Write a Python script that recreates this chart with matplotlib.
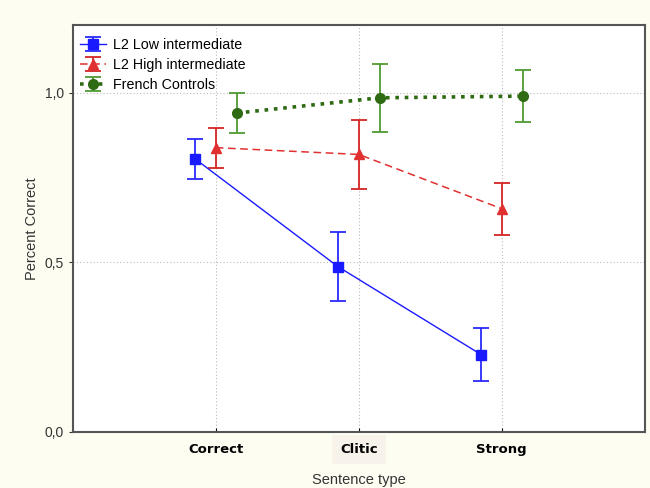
import matplotlib
matplotlib.use("Agg")
import matplotlib.pyplot as plt
from matplotlib.ticker import FuncFormatter

categories = ["Correct", "Clitic", "Strong"]
groups = ["L2 Low intermediate", "L2 High intermediate", "French Controls"]

low_mean = [0.805, 0.487, 0.228]
low_err = [0.058, 0.101, 0.077]
high_mean = [0.838, 0.818, 0.658]
high_err = [0.059, 0.102, 0.077]
ctrl_mean = [0.940, 0.985, 0.990]
ctrl_err = [0.058, 0.101, 0.077]

plt.rcParams['font.family'] = ['Liberation Sans', 'DejaVu Sans']

fig = plt.figure(figsize=(6.5, 4.88), dpi=100, facecolor="#fdfdf2")
ax = fig.add_axes([0.112, 0.115, 0.88, 0.834])
ax.set_facecolor("white")

x = list(range(1, len(categories) + 1))
shift = 0.145

# blue: low intermediate
ax.errorbar([v - shift for v in x], low_mean, yerr=low_err, color="#1a1aff",
            ecolor="#2a2aff", marker="s", markersize=7, linestyle="-", linewidth=1,
            elinewidth=1.3, capsize=6, capthick=1.3, label=groups[0], zorder=3)
# red: high intermediate
ax.errorbar(x, high_mean, yerr=high_err, color="#e03030", ecolor="#d42424",
            marker="^", markersize=7, linestyle=(0, (5, 3)), linewidth=1.1,
            elinewidth=1.3, capsize=6, capthick=1.3, label=groups[1], zorder=3)
# green: controls
ax.errorbar([v + shift for v in x], ctrl_mean, yerr=ctrl_err, color="#2f6b12",
            ecolor="#4f9a32", marker="o", markersize=7, linestyle=(0, (1, 1.6)),
            linewidth=2.6, elinewidth=1.3, capsize=6, capthick=1.3,
            label=groups[2], zorder=3)

ax.set_xlim(0, 4)
ax.set_ylim(0, 1.2)
ax.set_xticks(x)
ax.set_xticklabels(categories, fontsize=9.5, fontweight="bold", family="DejaVu Sans")
ax.get_xticklabels()[1].set_bbox(dict(facecolor="#f8f3ea", edgecolor="none", pad=6))
ax.set_yticks([0, 0.5, 1.0])
ax.yaxis.set_major_formatter(FuncFormatter(lambda v, p: f"{v:.1f}".replace(".", ",")))
ax.tick_params(axis="y", labelsize=10, colors="#333333", length=3)
ax.tick_params(axis="x", length=3, direction="in", pad=8)
ax.grid(True, color="#bbbbbb", linestyle=(0, (1, 2)), linewidth=0.8)
ax.set_axisbelow(True)

for s in ax.spines.values():
    s.set_color("#555555")
    s.set_linewidth(1.5)

ax.set_xlabel("Sentence type", fontsize=10.5, color="#333333", labelpad=12)
ax.set_ylabel("Percent Correct", fontsize=10.5, color="#333333", labelpad=4)

leg = ax.legend(loc="upper left", bbox_to_anchor=(0.0, 0.985), fontsize=10.3,
                frameon=False, borderaxespad=0.2, handlelength=1.8,
                labelspacing=0.42, borderpad=0.3, handletextpad=0.5)

fig.savefig("out.png", dpi=100, facecolor=fig.get_facecolor())
